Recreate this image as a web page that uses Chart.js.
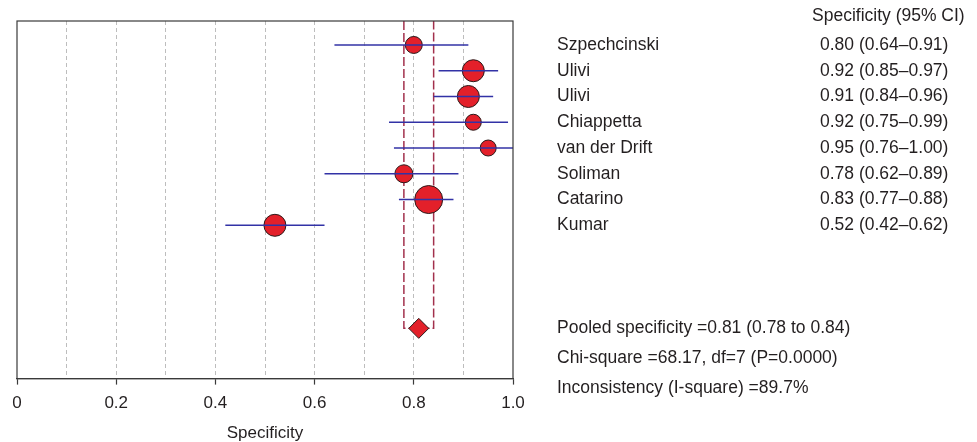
<!DOCTYPE html>
<html>
<head>
<meta charset="utf-8">
<script src="https://cdn.jsdelivr.net/npm/chart.js@4/dist/chart.umd.min.js"></script>
<style>
  body { margin: 0; background: #fff; }
  #wrap { width: 977px; height: 442px; }
</style>
</head>
<body>
<div id="wrap"><canvas id="forest"></canvas></div>
<script>
// study data
const studies = ["Szpechcinski", "Ulivi", "Ulivi", "Chiappetta", "van der Drift", "Soliman", "Catarino", "Kumar"];
const specificity = [0.80, 0.92, 0.91, 0.92, 0.95, 0.78, 0.83, 0.52];
const ciLow = [0.64, 0.85, 0.84, 0.75, 0.76, 0.62, 0.77, 0.42];
const ciHigh = [0.91, 0.97, 0.96, 0.99, 1.00, 0.89, 0.88, 0.62];

// pooled estimate + heterogeneity
const pooled = [0.81, 0.78, 0.84];
const chiSquare = [68.17, 7, "0.0000"];
const iSquare = 89.7;

const xTickLabels = ["0", "0.2", "0.4", "0.6", "0.8", "1.0"];

// marker sizes (study weight), kept apart from the data
const circleRadius = [8.5, 11, 11, 8, 8, 9, 14, 11];

const textColor = "#231f20";
const family = "'Liberation Sans', Arial, sans-serif";
const font = "17.5px " + family;
const pooledRow = 12;

const rows = studies.map((s, i) => i + 1);

// one line per confidence interval
const ciSets = studies.map((s, i) => ({
  type: "line",
  data: [{ x: ciLow[i], y: rows[i] }, { x: ciHigh[i], y: rows[i] }],
  borderColor: "#3232a6",
  borderWidth: 1.4,
  pointRadius: 0,
  order: 0,
}));

const circleSet = {
  type: "scatter",
  data: specificity.map((v, i) => ({ x: v, y: rows[i] })),
  backgroundColor: "#e3202a",
  borderColor: "#2a1a1a",
  borderWidth: 1,
  pointRadius: circleRadius,
  order: 1,
};

const diamondSet = {
  type: "scatter",
  data: [{ x: pooled[0], y: pooledRow }],
  pointStyle: "rectRot",
  backgroundColor: "#e3202a",
  borderColor: "#2a1a1a",
  borderWidth: 1,
  pointRadius: 10,
  order: 0.5,
};

// dashed bracket for the pooled CI
const bracketSet = {
  type: "line",
  data: [
    { x: pooled[1], y: 0.07 },
    { x: pooled[1], y: pooledRow },
    { x: pooled[2], y: pooledRow },
    { x: pooled[2], y: 0.07 },
  ],
  borderColor: "#a2304c",
  borderWidth: 1.5,
  borderDash: [9, 3],
  pointRadius: 0,
  order: 2,
};

const sidePanel = {
  id: "sidePanel",
  afterDraw(chart) {
    const { ctx, chartArea: a, scales } = chart;
    ctx.save();
    ctx.strokeStyle = "#3a3a3a";
    ctx.lineWidth = 1.2;
    ctx.strokeRect(a.left, a.top, a.right - a.left, a.bottom - a.top);

    ctx.fillStyle = textColor;
    ctx.font = font;
    ctx.textBaseline = "middle";
    ctx.textAlign = "left";
    ctx.fillText("Specificity (95% CI)", 812, 16);
    studies.forEach((s, i) => {
      const y = scales.y.getPixelForValue(rows[i]);
      ctx.fillText(s, 557, y);
      ctx.fillText(specificity[i].toFixed(2) + " (" + ciLow[i].toFixed(2) + "\u2013" + ciHigh[i].toFixed(2) + ")", 820, y);
    });
    const y0 = scales.y.getPixelForValue(pooledRow);
    ctx.fillText("Pooled specificity =" + pooled[0].toFixed(2) + " (" + pooled[1].toFixed(2) + " to " + pooled[2].toFixed(2) + ")", 557, y0);
    ctx.fillText("Chi-square =" + chiSquare[0] + ", df=" + chiSquare[1] + " (P=" + chiSquare[2] + ")", 557, y0 + 30);
    ctx.fillText("Inconsistency (I-square) =" + iSquare + "%", 557, y0 + 60);
    ctx.restore();
  },
};

const isMajor = (v) => Math.round(v * 10) % 2 === 0;

new Chart(document.getElementById("forest"), {
  data: { datasets: [...ciSets, circleSet, diamondSet, bracketSet] },
  options: {
    responsive: true,
    maintainAspectRatio: false,
    animation: false,
    layout: { padding: { left: 17, right: 464, top: 21, bottom: 0 } },
    plugins: { legend: { display: false }, tooltip: { enabled: false } },
    scales: {
      x: {
        type: "linear",
        min: 0,
        max: 1,
        ticks: {
          stepSize: 0.1,
          padding: 9,
          color: textColor,
          font: { family: family, size: 17 },
          callback: (v) => (isMajor(v) ? xTickLabels[Math.round(v * 5)] : ""),
          maxRotation: 0,
          autoSkip: false,
        },
        grid: {
          color: (c) => (c.tick && (c.tick.value <= 0.001 || c.tick.value >= 0.999) ? "rgba(0,0,0,0)" : "#bdbdbd"),
          lineWidth: 1,
          tickLength: 6,
          tickColor: (c) => (c.tick && isMajor(c.tick.value) ? "#3a3a3a" : "rgba(0,0,0,0)"),
          tickWidth: 1.2,
        },
        border: { display: true, color: "#3a3a3a", width: 1.2, dash: [4, 3] },
        title: {
          display: true,
          text: "Specificity",
          color: textColor,
          font: { family: family, size: 17, lineHeight: 1.0 },
          padding: { top: 2, bottom: 0 },
        },
      },
      y: {
        type: "linear",
        reverse: true,
        min: 0.07,
        max: 13.95,
        display: false,
      },
    },
  },
  plugins: [sidePanel],
});
</script>
</body>
</html>
